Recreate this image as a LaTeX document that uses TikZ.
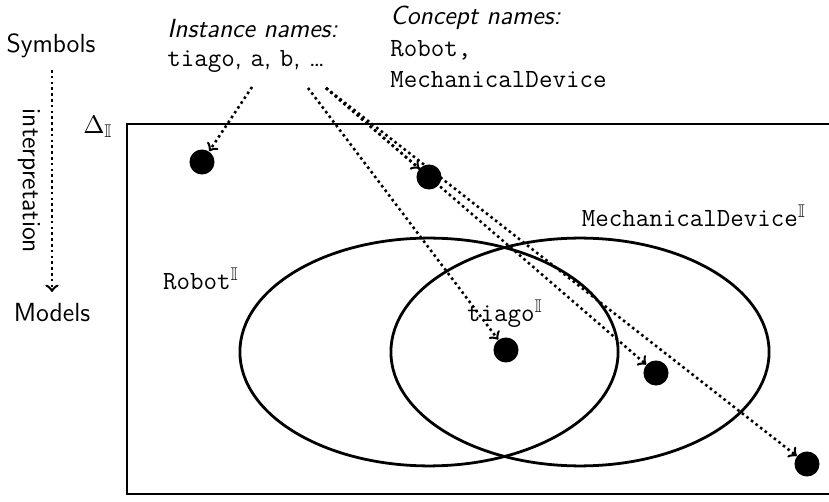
\documentclass[tikz,border=0pt]{standalone}
\usepackage[no-math]{fontspec}
\usepackage{amssymb}
\usetikzlibrary{calc}

\tikzset{
  elem/.style={circle, fill=black, inner sep=0pt, minimum size=10.8pt},
  setline/.style={line width=1.2pt},
  maparrow/.style={->, line width=1.1pt, dash pattern={on 1.1pt off 1.4pt}},
  lbl/.style={font=\fontsize{11.3}{13.5}\selectfont\sffamily, inner sep=0pt},
}

\begin{document}
\begin{tikzpicture}[x=0.431pt, y=-0.431pt]
    \useasboundingbox (0,0) rectangle (829,502);

    % symbols side
    \node [lbl, anchor=base] (sym) at (51,53) {Symbols};
    \node [lbl, anchor=base] (mod) at (52,322) {Models};
    \node [lbl, rotate=-90] (interp) at (29,181) {interpretation};
    \coordinate (itop) at (52,70);
    \coordinate (ibot) at (52,292);
    \draw [maparrow] (itop) -- (ibot);

    \node [lbl, anchor=base west] (inst) at (167,38) {\textit{Instance names:}};
    \node [lbl, anchor=base west] (names) at (167,67) {\texttt{tiago}, \texttt{a}, \texttt{b}, \ldots};
    \node [lbl, anchor=base west] (cpt) at (390,25) {\textit{Concept names:}};
    \node [lbl, anchor=base west] (robot) at (390,57) {\texttt{Robot,}};
    \node [lbl, anchor=base west] (mech) at (390,88) {\texttt{MechanicalDevice}};

    % domain
    \draw [setline] (860,124) -- (127,124) -- (127,494) -- (860,494);
    \node [lbl] (delta) at (98,127) {$\Delta_{\mathbb{I}}$};

    \draw [setline] (429,352) ellipse [x radius=81.5pt, y radius=49.1pt];
    \draw [setline] (580,352) ellipse [x radius=81.5pt, y radius=49.1pt];
    \node [lbl] (robotI) at (201,279) {\texttt{Robot}$^{\mathbb{I}}$};
    \node [lbl] (mechI) at (694,216) {\texttt{MechanicalDevice}$^{\mathbb{I}}$};
    \node [lbl] (tiagoI) at (505,314) {\texttt{tiago}$^{\mathbb{I}}$};

    \node [elem] (e1) at (202,162) {};
    \node [elem] (e2) at (429,177) {};
    \node [elem] (e3) at (506,350) {};
    \node [elem] (e4) at (656,373) {};
    \node [elem] (e5) at (807,464) {};

    \coordinate (sa) at (252,87);
    \coordinate (sb) at (308,88);
    \coordinate (sc) at (326,88);

    \draw [maparrow] (sa) -- (e1);
    \draw [maparrow] (sb) -- (e3);
    \draw [maparrow] (sc) -- (e2);
    \draw [maparrow] (sc) -- (e4);
    \draw [maparrow] (sc) -- (e5);
\end{tikzpicture}
\end{document}
